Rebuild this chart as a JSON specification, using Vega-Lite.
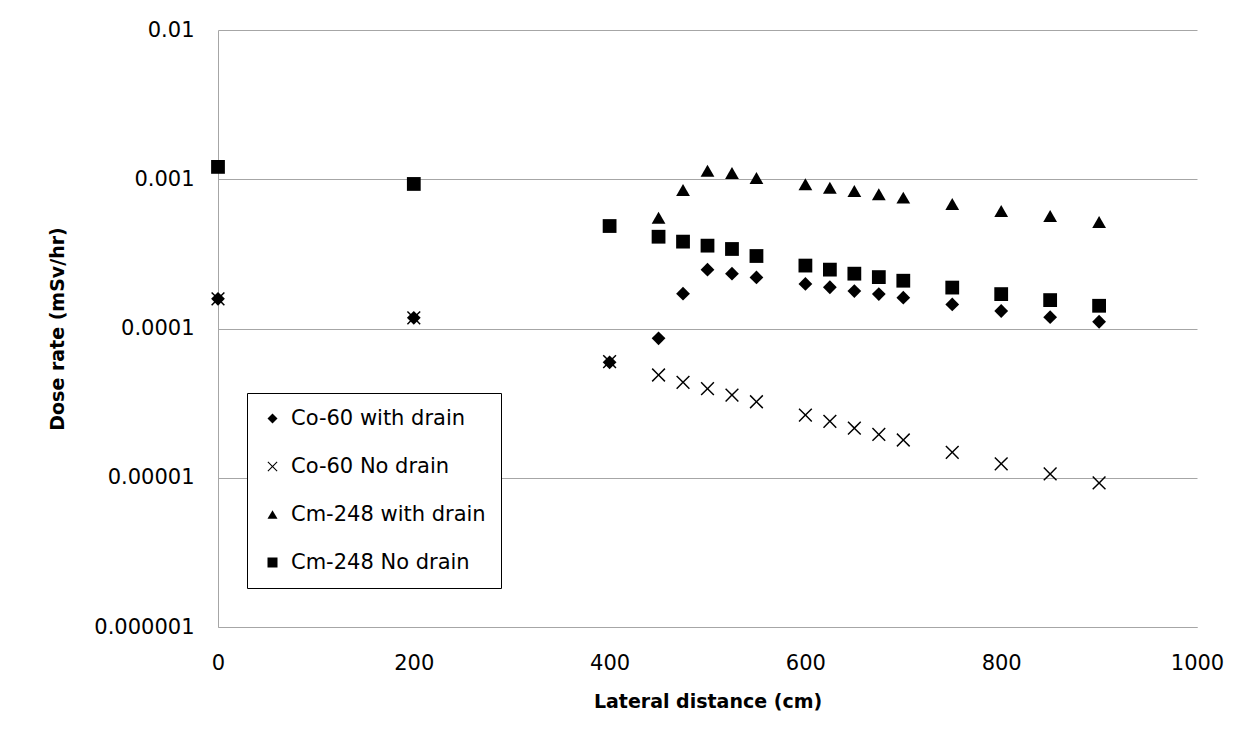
{
  "$schema": "https://vega.github.io/schema/vega-lite/v6.json",
  "width": 979,
  "height": 597,
  "autosize": {"type": "none"},
  "padding": {"left": 218, "top": 30, "right": 58, "bottom": 127},
  "background": "white",
  "config": {
    "font": "DejaVu Sans",
    "view": {"stroke": null},
    "axis": {
      "labelFont": "DejaVu Sans",
      "titleFont": "DejaVu Sans",
      "labelColor": "black",
      "titleColor": "black",
      "domainColor": "#a6a6a6",
      "gridColor": "#a6a6a6",
      "ticks": false,
      "labelFlush": false
    }
  },
  "data": {
    "values": [
      {"x": 0, "s": "Co-60 with drain", "v": 0.000158},
      {"x": 200, "s": "Co-60 with drain", "v": 0.000118},
      {"x": 400, "s": "Co-60 with drain", "v": 0.0000593},
      {"x": 450, "s": "Co-60 with drain", "v": 0.0000859},
      {"x": 475, "s": "Co-60 with drain", "v": 0.000171},
      {"x": 500, "s": "Co-60 with drain", "v": 0.000248},
      {"x": 525, "s": "Co-60 with drain", "v": 0.000233},
      {"x": 550, "s": "Co-60 with drain", "v": 0.00022},
      {"x": 600, "s": "Co-60 with drain", "v": 0.000199},
      {"x": 625, "s": "Co-60 with drain", "v": 0.000189},
      {"x": 650, "s": "Co-60 with drain", "v": 0.000178},
      {"x": 675, "s": "Co-60 with drain", "v": 0.00017},
      {"x": 700, "s": "Co-60 with drain", "v": 0.000161},
      {"x": 750, "s": "Co-60 with drain", "v": 0.000145},
      {"x": 800, "s": "Co-60 with drain", "v": 0.000131},
      {"x": 850, "s": "Co-60 with drain", "v": 0.000119},
      {"x": 900, "s": "Co-60 with drain", "v": 0.000111},
      {"x": 0, "s": "Co-60 No drain", "v": 0.000158},
      {"x": 200, "s": "Co-60 No drain", "v": 0.000118},
      {"x": 400, "s": "Co-60 No drain", "v": 0.00006},
      {"x": 450, "s": "Co-60 No drain", "v": 0.0000488},
      {"x": 475, "s": "Co-60 No drain", "v": 0.0000436},
      {"x": 500, "s": "Co-60 No drain", "v": 0.0000395},
      {"x": 525, "s": "Co-60 No drain", "v": 0.0000358},
      {"x": 550, "s": "Co-60 No drain", "v": 0.0000323},
      {"x": 600, "s": "Co-60 No drain", "v": 0.0000263},
      {"x": 625, "s": "Co-60 No drain", "v": 0.0000239},
      {"x": 650, "s": "Co-60 No drain", "v": 0.0000215},
      {"x": 675, "s": "Co-60 No drain", "v": 0.0000195},
      {"x": 700, "s": "Co-60 No drain", "v": 0.0000179},
      {"x": 750, "s": "Co-60 No drain", "v": 0.0000148},
      {"x": 800, "s": "Co-60 No drain", "v": 0.0000124},
      {"x": 850, "s": "Co-60 No drain", "v": 0.0000106},
      {"x": 900, "s": "Co-60 No drain", "v": 0.00000923},
      {"x": 450, "s": "Cm-248 with drain", "v": 0.000552},
      {"x": 475, "s": "Cm-248 with drain", "v": 0.000847},
      {"x": 500, "s": "Cm-248 with drain", "v": 0.00114},
      {"x": 525, "s": "Cm-248 with drain", "v": 0.0011},
      {"x": 550, "s": "Cm-248 with drain", "v": 0.00102},
      {"x": 600, "s": "Cm-248 with drain", "v": 0.000925},
      {"x": 625, "s": "Cm-248 with drain", "v": 0.000877},
      {"x": 650, "s": "Cm-248 with drain", "v": 0.000834},
      {"x": 675, "s": "Cm-248 with drain", "v": 0.000793},
      {"x": 700, "s": "Cm-248 with drain", "v": 0.000753},
      {"x": 750, "s": "Cm-248 with drain", "v": 0.000683},
      {"x": 800, "s": "Cm-248 with drain", "v": 0.000613},
      {"x": 850, "s": "Cm-248 with drain", "v": 0.000567},
      {"x": 900, "s": "Cm-248 with drain", "v": 0.000517},
      {"x": 0, "s": "Cm-248 No drain", "v": 0.00121},
      {"x": 200, "s": "Cm-248 No drain", "v": 0.00093},
      {"x": 400, "s": "Cm-248 No drain", "v": 0.000486},
      {"x": 450, "s": "Cm-248 No drain", "v": 0.000412},
      {"x": 475, "s": "Cm-248 No drain", "v": 0.000382},
      {"x": 500, "s": "Cm-248 No drain", "v": 0.000359},
      {"x": 525, "s": "Cm-248 No drain", "v": 0.000341},
      {"x": 550, "s": "Cm-248 No drain", "v": 0.000306},
      {"x": 600, "s": "Cm-248 No drain", "v": 0.000264},
      {"x": 625, "s": "Cm-248 No drain", "v": 0.000248},
      {"x": 650, "s": "Cm-248 No drain", "v": 0.000233},
      {"x": 675, "s": "Cm-248 No drain", "v": 0.000221},
      {"x": 700, "s": "Cm-248 No drain", "v": 0.000209},
      {"x": 750, "s": "Cm-248 No drain", "v": 0.000188},
      {"x": 800, "s": "Cm-248 No drain", "v": 0.00017},
      {"x": 850, "s": "Cm-248 No drain", "v": 0.000155},
      {"x": 900, "s": "Cm-248 No drain", "v": 0.000142}
    ]
  },
  "mark": {"type": "point", "filled": true, "fill": "black", "strokeWidth": 0, "opacity": 1, "size": 190},
  "encoding": {
    "x": {
      "field": "x",
      "type": "quantitative",
      "scale": {"domain": [0, 1000], "nice": false},
      "axis": {
        "values": [0, 200, 400, 600, 800, 1000],
        "format": "d",
        "grid": false,
        "labelFontSize": 21,
        "labelPadding": 25,
        "title": "Lateral distance (cm)",
        "titleFontSize": 19,
        "titleFontWeight": "bold",
        "titlePadding": 19
      }
    },
    "y": {
      "field": "v",
      "type": "quantitative",
      "scale": {"type": "log", "domain": [0.000001, 0.01], "nice": false},
      "axis": {
        "values": [0.000001, 0.00001, 0.0001, 0.001, 0.01],
        "labelExpr": "format(datum.value, '.6~f')",
        "grid": true,
        "labelFontSize": 21,
        "labelPadding": 24,
        "title": "Dose rate (mSv/hr)",
        "titleFontSize": 19,
        "titleFontWeight": "bold",
        "titlePadding": 26
      }
    },
    "shape": {
      "field": "s",
      "type": "nominal",
      "scale": {
        "domain": ["Co-60 with drain", "Co-60 No drain", "Cm-248 with drain", "Cm-248 No drain"],
        "range": ["diamond", "M-0.85,-1L0,-0.15L0.85,-1L1,-0.85L0.15,0L1,0.85L0.85,1L0,0.15L-0.85,1L-1,0.85L-0.15,0L-1,-0.85Z", "triangle-up", "square"]
      },
      "legend": {
        "title": null,
        "orient": "none",
        "legendX": 29,
        "legendY": 363,
        "fillColor": "white",
        "strokeColor": "black",
        "padding": 15,
        "rowPadding": 26,
        "labelFont": "DejaVu Sans",
        "labelFontSize": 21,
        "labelColor": "black",
        "labelLimit": 300,
        "labelOffset": 8,
        "symbolSize": 100,
        "symbolFillColor": "black",
        "symbolStrokeWidth": 0,
        "symbolOpacity": 1
      }
    }
  }
}
